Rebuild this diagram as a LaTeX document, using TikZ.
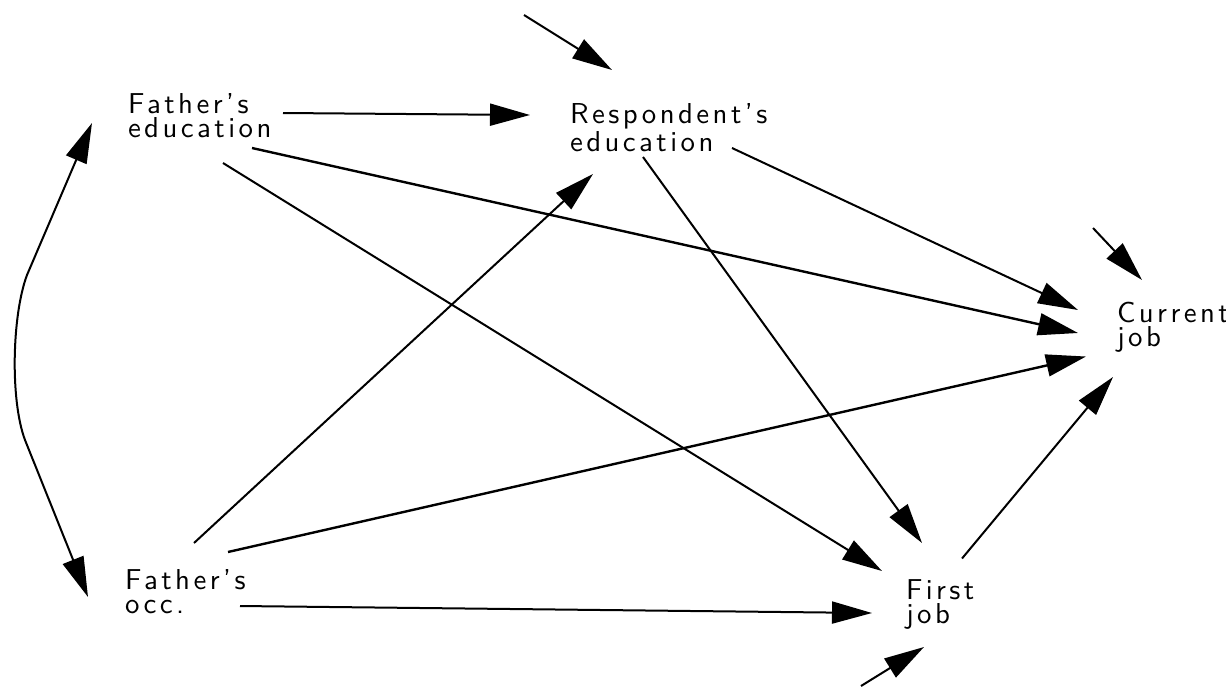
\documentclass[tikz,border=0pt]{standalone}
\usepackage{fontspec}
\usetikzlibrary{arrows.meta}
\newfontfamily\lab{lmsans10-regular.otf}[LetterSpace=12]
\begin{document}
\begin{tikzpicture}[x=0.5pt,y=-0.5pt,
  lbl/.style={anchor=north west,inner sep=0pt,outer sep=0pt,align=left,
    font=\lab\fontsize{14.4}{12}\selectfont},
  arr/.style={line width=1pt,-{Triangle[length=20pt,width=11pt]}},
  arrb/.style={line width=1.2pt,-{Triangle[length=20pt,width=11pt]}},
  dbl/.style={line width=1pt,{Triangle[length=20pt,width=11pt]}-{Triangle[length=20pt,width=11pt]}}]
\useasboundingbox (0,0) rectangle (1226,686);
\node[lbl] (fe) at (128,93.5) {Father’s\\education};
\node[lbl] (re) at (570,104) {Respondent’s\\education};
\node[lbl] (cj) at (1117,302.5) {Current\\job};
\node[lbl] (fj) at (906,579.5) {First\\job};
\node[lbl] (fo) at (125,569.5) {Father’s\\occ.};
\coordinate (inRE) at (524,15);
\coordinate (inCJ) at (1093,228);
\coordinate (inFJ) at (861,686);
% paths
\draw[arr] ([shift={(155,19.5)}]fe.north west) -- ([shift={(-40,11)}]re.north west);
\draw[arr] (inRE) -- ([shift={(42,-34)}]re.north west);
\draw[arrb] ([shift={(124,54.5)}]fe.north west) -- ([shift={(-39,30.5)}]cj.north west);
\draw[arr] ([shift={(162,44)}]re.north west) -- ([shift={(-39,7.5)}]cj.north west);
\draw[arr] (inCJ) -- ([shift={(25,-22.5)}]cj.north west);
\draw[arr] ([shift={(73,53)}]re.north west) -- ([shift={(16,-36.5)}]fj.north west);
\draw[arr] ([shift={(95,69.5)}]fe.north west) -- ([shift={(-24,-8.5)}]fj.north west);
\draw[arr] ([shift={(69,-26.5)}]fo.north west) -- ([shift={(23,70)}]re.north west);
\draw[arrb] ([shift={(103,-17.5)}]fo.north west) -- ([shift={(-31,54)}]cj.north west);
\draw[arr] ([shift={(115,36.5)}]fo.north west) -- ([shift={(-34,33.5)}]fj.north west);
\draw[arr] ([shift={(56,-21)}]fj.north west) -- ([shift={(-4,74.5)}]cj.north west);
\draw[arr] (inFJ) -- ([shift={(18,67.5)}]fj.north west);
\draw[dbl] ([shift={(-36,29.5)}]fe.north west) -- (27,275) .. controls (12,315) and (10,400) .. (25,440) -- ([shift={(-37,27.5)}]fo.north west);
\end{tikzpicture}
\end{document}
